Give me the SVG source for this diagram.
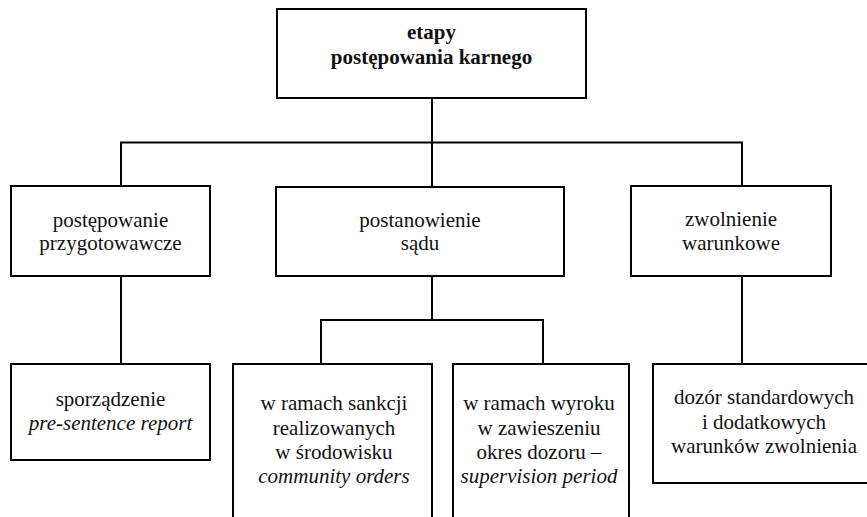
<svg xmlns="http://www.w3.org/2000/svg" width="867" height="517" viewBox="0 0 867 517" font-family="Liberation Serif, DejaVu Serif, serif">
<style>
.box{fill:#fff;stroke:#000;stroke-width:2}
.con{fill:none;stroke:#000;stroke-width:2}
text{font-family:'Liberation Serif','DejaVu Serif',serif;font-size:21px;fill:#111;text-anchor:middle}
.b{font-weight:bold}
.i{font-style:italic}
</style>
<rect width="867" height="517" fill="#fff"/>
<g id="connectors">
<path class="con" d="M432,98 V142.5 M121,186 V142.5 H742 V186 M432,142.5 V187"/>
<path class="con" d="M121,276 V364"/>
<path class="con" d="M432,276 V320 M321,364 V320 H543 V364"/>
<path class="con" d="M742,276 V364"/>
</g>
<g id="n-root">
<rect class="box" x="277" y="9" width="309" height="89"/>
<text class="b" x="431.5" y="39">etapy</text>
<text class="b" x="431.5" y="64">postępowania karnego</text>
</g>
<g id="n-prep">
<rect class="box" x="11" y="186" width="199" height="90"/>
<text x="110.5" y="227">postępowanie</text>
<text x="110.5" y="250">przygotowawcze</text>
</g>
<g id="n-court">
<rect class="box" x="276" y="187" width="288" height="89"/>
<text x="420" y="227">postanowienie</text>
<text x="420" y="250">sądu</text>
</g>
<g id="n-parole">
<rect class="box" x="631" y="186" width="200" height="90"/>
<text x="731" y="226">zwolnienie</text>
<text x="731" y="250">warunkowe</text>
</g>
<g id="n-report">
<rect class="box" x="11" y="364" width="199" height="96"/>
<text x="110.5" y="406">sporządzenie</text>
<text class="i" x="110.5" y="430">pre-sentence report</text>
</g>
<g id="n-community">
<rect class="box" x="233" y="364" width="199" height="170"/>
<text x="334" y="410">w ramach sankcji</text>
<text x="334" y="435">realizowanych</text>
<text x="334" y="459">w środowisku</text>
<text class="i" x="334" y="483">community orders</text>
</g>
<g id="n-suspended">
<rect class="box" x="453" y="364" width="176" height="170"/>
<text x="539" y="410">w ramach wyroku</text>
<text x="539" y="435">w zawieszeniu</text>
<text x="539" y="459">okres dozoru –</text>
<text class="i" x="539" y="483">supervision period</text>
</g>
<g id="n-supervision">
<rect class="box" x="653" y="364" width="230" height="119"/>
<text x="764" y="404">dozór standardowych</text>
<text x="764" y="429">i dodatkowych</text>
<text x="764" y="453">warunków zwolnienia</text>
</g>
</svg>
